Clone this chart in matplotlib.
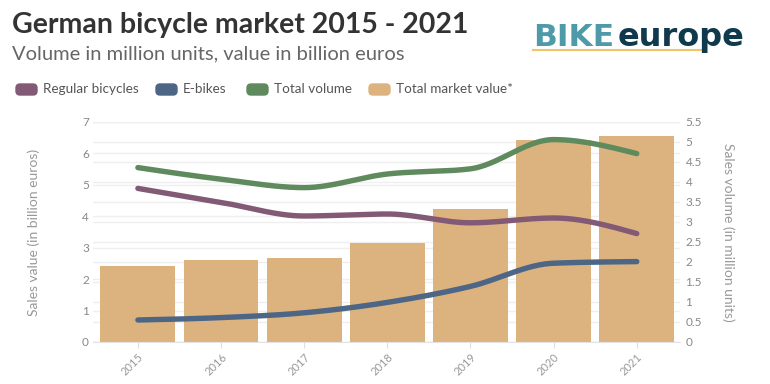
import numpy as np
import matplotlib
matplotlib.use("Agg")
import matplotlib.pyplot as plt
from matplotlib.patches import FancyBboxPatch

plt.rcParams['font.family'] = ['Lato', 'DejaVu Sans']

# data
years = ['2015', '2016', '2017', '2018', '2019', '2020', '2021']
market_value = [2.43, 2.60, 2.68, 3.16, 4.23, 6.44, 6.56]      # billion euros (left axis)
regular = [3.84, 3.49, 3.15, 3.20, 2.98, 3.10, 2.71]           # million units (right axis)
ebikes = [0.55, 0.61, 0.73, 0.99, 1.39, 1.97, 2.01]
total = [4.36, 4.07, 3.86, 4.20, 4.33, 5.06, 4.71]

series_names = ['Regular bicycles', 'E-bikes', 'Total volume', 'Total market value*']
colors = ['#835a76', '#4d6686', '#5f8a5d', '#dcb37e']

W, H = 770, 384


def fx(x):
    return x / W


def fy(y):
    return 1 - y / H


# monotone cubic curve (same idea as d3 curveMonotoneX)
def monotone(xs, ys, n=30):
    xs = np.asarray(xs, float)
    ys = np.asarray(ys, float)
    h = np.diff(xs)
    d = np.diff(ys) / h
    m = np.zeros(len(xs))
    for k in range(1, len(xs) - 1):
        s0, s1 = d[k - 1], d[k]
        p = (s0 * h[k] + s1 * h[k - 1]) / (h[k - 1] + h[k])
        m[k] = (np.sign(s0) + np.sign(s1)) * min(abs(s0), abs(s1), 0.5 * abs(p))
    m[0] = (3 * d[0] - m[1]) / 2
    m[-1] = (3 * d[-1] - m[-2]) / 2
    out_x, out_y = [], []
    for k in range(len(xs) - 1):
        t = np.linspace(0, 1, n, endpoint=(k == len(xs) - 2))
        h00 = 2 * t**3 - 3 * t**2 + 1
        h10 = t**3 - 2 * t**2 + t
        h01 = -2 * t**3 + 3 * t**2
        h11 = t**3 - t**2
        out_x.append(xs[k] + t * h[k])
        out_y.append(h00 * ys[k] + h10 * h[k] * m[k] + h01 * ys[k + 1] + h11 * h[k] * m[k + 1])
    return np.concatenate(out_x), np.concatenate(out_y)


fig = plt.figure(figsize=(W / 100, H / 100), dpi=100)
pos = [fx(93), fy(342), (680 - 93) / W, (342 - 122) / H]

ax = fig.add_axes(pos)
grid_r = ax.twinx()
ax2 = ax.twinx()
grid_r.set_zorder(0)
ax.set_zorder(1)
ax2.set_zorder(2)
ax.patch.set_visible(False)
ax2.patch.set_visible(False)

x = np.arange(len(years))

# bars on the left scale
ax.bar(x, market_value, width=0.9, color=colors[3], zorder=2)
ax.set_xlim(-0.54, 6.52)
ax.set_ylim(0, 7)
ax.set_yticks(range(0, 8))
ax.grid(axis='y', color='#efefef', linewidth=1)
ax.set_axisbelow(True)
ax.set_xticks(x)
ax.set_xticklabels(years, rotation=45, ha='right', va='top', rotation_mode='anchor')
ax.tick_params(axis='x', length=4, color='#dddddd', labelsize=8, labelcolor='#999999', pad=3)
ax.tick_params(axis='y', length=0, labelsize=8.5, labelcolor='#888888', pad=3)
for s in ['top', 'right', 'left']:
    ax.spines[s].set_visible(False)
ax.spines['bottom'].set_color('#e3e3e3')
ax.set_ylabel('Sales value (in billion euros)', fontsize=10, color='#999999')
ax.yaxis.set_label_coords(-(93 - 40) / 587, 0.5)

# gridlines of the right scale, behind the bars
grid_r.set_ylim(0, 5.5)
grid_r.set_yticks(np.arange(0, 5.51, 0.5))
grid_r.grid(axis='y', color='#efefef', linewidth=1)
grid_r.tick_params(axis='y', length=0, labelright=False)
for s in grid_r.spines.values():
    s.set_visible(False)

# lines on the right scale
for vals, c in zip([regular, ebikes, total], colors[:3]):
    sx, sy = monotone(x, vals)
    ax2.plot(sx, sy, color=c, linewidth=3.9, solid_capstyle='round', zorder=3)
ax2.set_ylim(0, 5.5)
ax2.set_yticks(np.arange(0, 5.51, 0.5))
ax2.set_yticklabels(['0', '0.5', '1', '1.5', '2', '2.5', '3', '3.5', '4', '4.5', '5', '5.5'])
ax2.tick_params(axis='y', length=0, labelsize=8.5, labelcolor='#888888', pad=4)
for s in ax2.spines.values():
    s.set_visible(False)
ax2.set_ylabel('Sales volume (in million units)', fontsize=10, color='#999999', rotation=-90)
ax2.yaxis.set_label_coords((735 - 93) / 587, 0.5)

# header
fig.text(fx(12), fy(33), 'German bicycle market 2015 - 2021', fontsize=20.5, fontweight='bold',
         color='#333333', va='baseline')
fig.text(fx(12), fy(59), 'Volume in million units, value in billion euros', fontsize=14.5,
         color='#666666', va='baseline')

# legend
legend_x = [16, 156, 247, 369]
for lx, name, c in zip(legend_x, series_names, colors):
    fig.patches.append(FancyBboxPatch(((lx) / 100, (H - 95) / 100), 0.21, 0.11,
                                      boxstyle='round,pad=0,rounding_size=0.04',
                                      transform=fig.dpi_scale_trans, color=c))
    fig.text(fx(lx + 27), fy(93), name, fontsize=9.7, color='#555555', va='baseline')

# logo
fig.text(fx(533), fy(46), 'BIKE', fontsize=22.5, fontweight='bold', color='#4f9aa8',
         family=['DejaVu Sans'], va='baseline')
fig.text(fx(618), fy(46), 'europe', fontsize=23, fontweight='bold', color='#0f3a4d',
         family=['DejaVu Sans'], va='baseline')
fig.add_artist(plt.Line2D([fx(533), fx(703)], [fy(50), fy(50)], color='#f2c46a', linewidth=1.5))

fig.savefig('out.png', dpi=100)
